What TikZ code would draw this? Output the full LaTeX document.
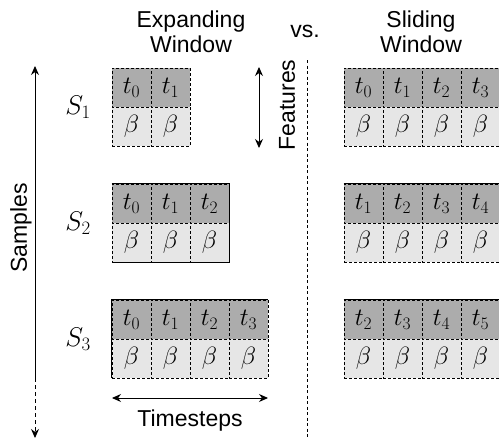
\RequirePackage{fix-cm}
\documentclass[tikz,border=0pt]{standalone}
\usepackage{fontspec}
\setmainfont{Liberation Sans}
\usetikzlibrary{arrows.meta}

\definecolor{featgray}{RGB}{172,172,172}
\definecolor{betagray}{RGB}{230,230,230}
\newcommand\cellfont{\fontsize{25}{30}\selectfont}
\newcommand\labelfont{\fontsize{23}{25}\selectfont}

\begin{document}
\begin{tikzpicture}[x=1pt,y=-1pt,
  cell/.style={draw, dash pattern=on 3pt off 2pt, line width=0.8pt,
    minimum width=39pt, minimum height=39pt, inner sep=0pt, font=\cellfont},
  featcell/.style={cell, fill=featgray},
  betacell/.style={cell, fill=betagray},
  edge/.style={line width=1pt},
  lbl/.style={font=\labelfont, align=center, inner sep=0pt},
  arr/.style={line width=0.9pt, -{Stealth[length=9pt,width=8pt]}},
  darr/.style={line width=0.9pt, {Stealth[length=9pt,width=8pt]}-{Stealth[length=9pt,width=8pt]}}]

\useasboundingbox (0,0) rectangle (499,439);

% expanding window: sample r covers t_0 .. t_r
\foreach \r/\y in {1/68,2/184,3/300} {
  \foreach \c in {0,...,\r} {
    \node[featcell] (e\r t\c) at ({112+39*\c+19.5},{\y+19.5}) {$t_{\c}$};
    \node[betacell] (e\r b\c) at ({112+39*\c+19.5},{\y+58.5}) {$\beta$};
  }
}

% sliding window: four steps, shifted by one per sample
\foreach \r/\y in {1/68,2/184,3/300} {
  \foreach \c in {0,...,3} {
    \pgfmathtruncatemacro\k{\r-1+\c}
    \node[featcell] (s\r t\c) at ({344+39*\c+19.5},{\y+19.5}) {$t_{\k}$};
    \node[betacell] (s\r b\c) at ({344+39*\c+19.5},{\y+58.5}) {$\beta$};
  }
}

% solid outline segments
\draw[edge] (e2t0.north west) -- (e2t2.north east) -- (e2b2.south east) -- (e2b0.south west);
\draw[edge] (e3b0.south west) -- (e3t0.north west) -- (e3t3.north east);
\draw[edge] (s2t0.north west) -- (s2t3.north east);
\draw[edge] (s3t0.north west) -- (s3t3.north east);

% sample labels
\foreach \r/\y in {1/107,2/223,3/339}
  \node[font=\fontsize{27}{30}\selectfont] (S\r) at (78,\y) {$S_{\r}$};

% titles
\node[lbl] (exptitle) at (191,32) {Expanding\\Window};
\node[lbl] (vs) at (305,31) {vs.};
\node[lbl] (slidetitle) at (421,32) {Sliding\\Window};

% samples axis
\coordinate (samptop) at (35,66);
\coordinate (sampmid) at (35,378);
\coordinate (sampbot) at (35,438);
\draw[arr] (sampmid) -- (samptop);
\draw[arr, dash pattern=on 4pt off 3pt] (sampmid) -- (sampbot);
\node[lbl, rotate=90] (samples) at (21,228) {Samples};

% features axis
\coordinate (feattop) at (259,67);
\coordinate (featbot) at (259,148);
\draw[darr] (featbot) -- (feattop);
\node[lbl, rotate=90] (features) at (287,105) {Features};

% timesteps axis
\coordinate (tsleft) at (112,398);
\coordinate (tsright) at (268,398);
\draw[darr] (tsleft) -- (tsright);
\node[lbl] (timesteps) at (190,421) {Timesteps};

% separator
\coordinate (septop) at (307,60);
\coordinate (sepbot) at (307,439);
\draw[line width=0.8pt, dash pattern=on 3pt off 2.5pt] (septop) -- (sepbot);

\end{tikzpicture}
\end{document}
